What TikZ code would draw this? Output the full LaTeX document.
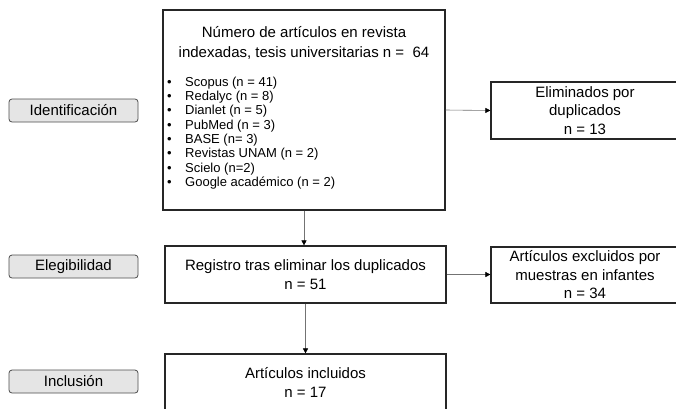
\documentclass[tikz,border=0pt]{standalone}
\usepackage{fontspec}
\setmainfont{Liberation Sans}
\usetikzlibrary{arrows.meta}

\tikzset{
  caja/.style={draw=black!85, line width=1.2pt, minimum width=282pt, inner sep=0pt},
  etapa/.style={draw=black!70, fill=black!10, line width=0.8pt, rounded corners=3pt,
    minimum width=129pt, minimum height=23pt, inner sep=0pt, font=\fontsize{15}{17}\selectfont},
  texto/.style={align=center, inner sep=0pt, font=\fontsize{15}{18.5}\selectfont},
  flecha/.style={draw=black!55, line width=0.6pt, -{Triangle[length=5pt,width=5pt,color=black]}}
}

\begin{document}
\begin{tikzpicture}[x=1pt, y=-1pt]
\useasboundingbox (0,0) rectangle (676,408);
\clip (0,0) rectangle (676,408);
% Stages
\node[etapa] (lab1) at (73.5,110.5) {Identificación};
\node[etapa] (lab2) at (73.5,266.5) {Elegibilidad};
\node[etapa] (lab3) at (73.5,381.5) {Inclusión};
% Boxes
\node[caja, minimum height=200pt] (ident) at (304,110) {};
\node[caja, minimum width=281pt, minimum height=57pt] (regis) at (305.5,274.5) {};
\node[caja, minimum width=281pt, minimum height=70pt] (incl) at (305.5,389) {};
\node[caja, minimum width=200pt, minimum height=57pt] (elim) at (591,110.5) {};
\node[caja, minimum width=200pt, minimum height=56pt] (excl) at (591,275) {};
% Texts
\node[texto, font=\fontsize{15}{20}\selectfont] (titulo) at (304,43)
  {Número de artículos en revista\\indexadas, tesis universitarias n = \ 64};
\foreach \i/\txt in {0/Scopus (n = 41), 1/Redalyc (n = 8), 2/Dianlet (n = 5),
    3/PubMed (n = 3), 4/BASE (n= 3), 5/Revistas UNAM (n = 2), 6/Scielo (n=2),
    7/Google académico (n = 2)}
  \node[anchor=west, inner sep=0pt, font=\fontsize{13}{15}\selectfont] (fuente\i)
    at (167,83+14.3*\i) {\makebox[18pt][l]{\textbullet}\txt};
\node[texto] (telim) at (585,110.5) {Eliminados por\\duplicados\\n = 13};
\node[texto] (tregis) at (regis) {Registro tras eliminar los duplicados\\n = 51};
\node[texto] (texcl) at (585,275) {Artículos excluidos por\\muestras en infantes\\n = 34};
\node[texto] (tincl) at (305.5,382.5) {Artículos incluidos\\n = 17};
% Arrows
\draw[flecha] (ident.east) -- (elim.west);
\draw[flecha] (ident.south) -- (ident.south |- regis.north);
\draw[flecha] (regis.east) -- (regis.east -| excl.west);
\draw[flecha] (regis.south) -- (incl.north);
\end{tikzpicture}
\end{document}
